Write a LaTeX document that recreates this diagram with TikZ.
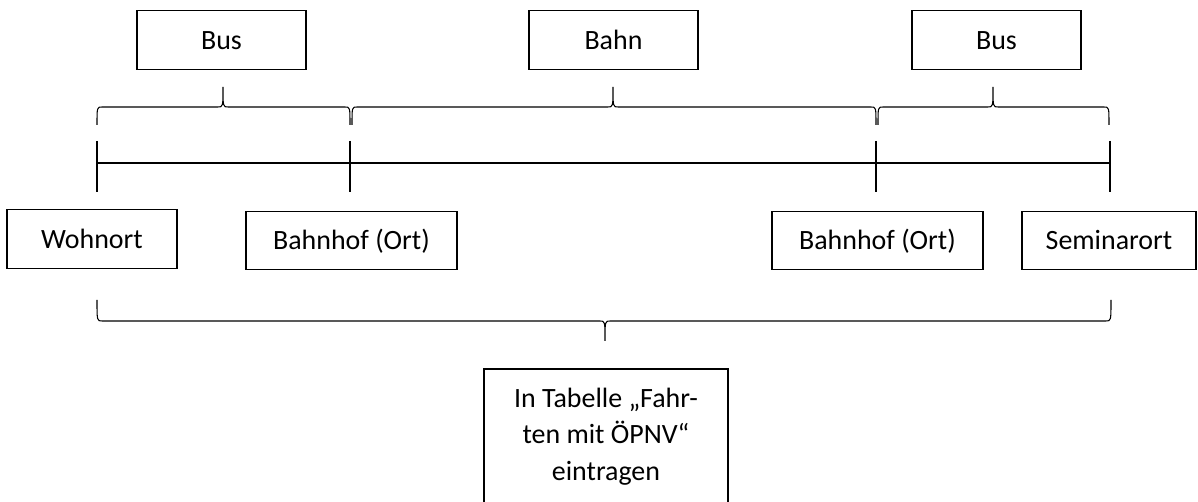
\documentclass[tikz,border=0pt]{standalone}
\usepackage{fontspec}
\setmainfont{Carlito}
\begin{document}
\begin{tikzpicture}[x=0.02cm, y=-0.02cm, line width=0.6pt,
    box/.style={draw, line width=0.8pt, minimum height=1.17cm, inner sep=0pt,
        text height=11pt, text depth=0.6pt,
        font=\fontsize{15.9}{20.7}\selectfont}]
    \useasboundingbox (0,0) rectangle (1198,502);
    \node[box, minimum width=3.38cm] (bus1) at (221.5,40) {Bus};
    \node[box, minimum width=3.38cm] (bahn) at (613.5,40) {Bahn};
    \node[box, minimum width=3.38cm] (bus2) at (996.5,40) {Bus};
    \node[box, minimum width=3.40cm] (wohnort) at (92,239) {Wohnort};
    \node[box, minimum width=4.22cm] (bhf1) at (351.5,240.5) {Bahnhof (Ort)};
    \node[box, minimum width=4.22cm] (bhf2) at (877.5,240.5) {Bahnhof (Ort)};
    \node[box, minimum width=3.48cm] (seminar) at (1109,240.5) {Seminarort};
    \coordinate (A) at (97,163);
    \coordinate (B) at (350,163);
    \coordinate (C) at (876,163);
    \coordinate (D) at (1110,163);
    \draw (A) -- (D);
    \foreach \p in {A,B,C,D}
        \draw ([yshift=0.44cm]\p) -- ([yshift=-0.58cm]\p);
    \foreach \a/\m/\b/\e/\l/\t in {97/223/350/125/107/87, 352/613/876/125/107/87,
        878/993/1109/125/107/87, 97/605/1111/300/321/341}
        \draw (\a,\e) .. controls (\a,\l) .. (\a+5,\l) -- (\m-5,\l)
            .. controls (\m,\l) .. (\m,\t) .. controls (\m,\l) .. (\m+5,\l)
            -- (\b-5,\l) .. controls (\b,\l) .. (\b,\e);
    \draw[line width=0.8pt] (484,530) rectangle (728,369);
    \node[align=center, font=\fontsize{15.9}{20.9}\selectfont] (tabelle) at (606,436.5)
        {In Tabelle „Fahr-\\ten mit ÖPNV“\\eintragen};
\end{tikzpicture}
\end{document}
